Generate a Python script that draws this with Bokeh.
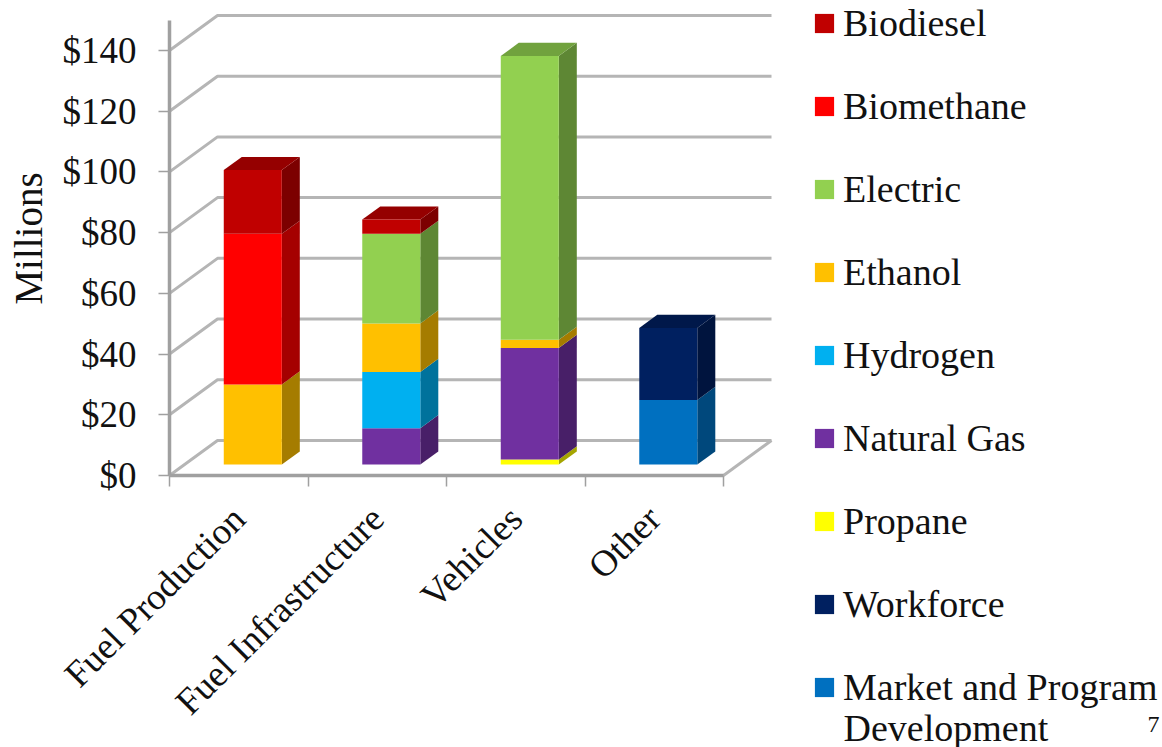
from math import pi

from bokeh.embed import file_html
from bokeh.models import FixedTicker, Label, Legend, LegendItem, NumeralTickFormatter
from bokeh.plotting import figure
from bokeh.resources import INLINE

categories = ["Fuel Production", "Fuel Infrastructure", "Vehicles", "Other"]
series_names = ["Biodiesel", "Biomethane", "Electric", "Ethanol", "Hydrogen",
                "Natural Gas", "Propane", "Workforce", "Market and Program"]
series_colors = ["#C00000", "#FF0000", "#92D050", "#FFC000", "#00B0F0",
                 "#7030A0", "#FFFF00", "#002060", "#0070C0"]

# $ millions per category, listed in the order each column stacks upward
fuel_production = [("Ethanol", 26.4), ("Biomethane", 49.6), ("Biodiesel", 21.0)]
fuel_infrastructure = [("Natural Gas", 12.0), ("Hydrogen", 18.5), ("Ethanol", 16.0),
                       ("Electric", 29.5), ("Biodiesel", 4.7)]
vehicles = [("Propane", 1.7), ("Natural Gas", 36.7), ("Ethanol", 2.7), ("Electric", 93.5)]
other = [("Market and Program", 21.3), ("Workforce", 23.7)]
stacks = [fuel_production, fuel_infrastructure, vehicles, other]

y_ticks = [0, 20, 40, 60, 80, 100, 120, 140]

FONT = "Liberation Serif"
GRID = "#b5b5b5"
AXIS = "#a0a0a0"
INK = "#111111"

# The frame fills the page; one category spans 138.5 px and one $ million 3.036 px
PX_PER_CATEGORY = 138.5
PX_PER_MILLION = 3.036
ORIGIN_X = 169
ORIGIN_Y = 475
PAGE_W = 1162
PAGE_H = 747

# Oblique projection: how far the back wall sits from the front plane, in data units
WALL_DX = 48 / PX_PER_CATEGORY
WALL_DY = 35 / PX_PER_MILLION
BAR_WIDTH = 0.419
BAR_CENTER = 0.493
BAR_FRONT = 0.3125
BAR_BACK = 0.6875


def shade(color, k):
    r, g, b = (int(color[i:i + 2], 16) for i in (1, 3, 5))
    return f"#{int(r * k):02x}{int(g * k):02x}{int(b * k):02x}"


def project(x, v, depth):
    return x + depth * WALL_DX, v + depth * WALL_DY


p = figure(width=PAGE_W, height=PAGE_H, output_backend="svg", toolbar_location=None,
           x_range=(-ORIGIN_X / PX_PER_CATEGORY, (PAGE_W - ORIGIN_X) / PX_PER_CATEGORY),
           y_range=((ORIGIN_Y - PAGE_H) / PX_PER_MILLION, ORIGIN_Y / PX_PER_MILLION),
           min_border=0, outline_line_color=None,
           background_fill_color="white", border_fill_color="white")
p.grid.visible = False

# Wall and floor lines
gx, gy = [], []
for level in y_ticks:
    xb, yb = project(0, level, 1)
    gx.append([0, xb, 4 + WALL_DX])
    gy.append([level, yb, yb])
p.multi_line(gx, gy, line_color=GRID, line_width=3)
xr, yr = project(4, 0, 1)
p.line([4, xr], [0, yr], line_color=GRID, line_width=3)

# Columns: side and top faces first, front face on top of them
swatches = {}
for i, stack in enumerate(stacks):
    x0 = i + BAR_CENTER - BAR_WIDTH / 2
    x1 = x0 + BAR_WIDTH
    base = 0.0
    for k, (name, amount) in enumerate(stack):
        top = base + amount
        color = series_colors[series_names.index(name)]
        fx0b, fyb = project(x0, base, BAR_FRONT)
        fx1b, _ = project(x1, base, BAR_FRONT)
        fx0t, fyt = project(x0, top, BAR_FRONT)
        fx1t, _ = project(x1, top, BAR_FRONT)
        bx1b, byb = project(x1, base, BAR_BACK)
        bx1t, byt = project(x1, top, BAR_BACK)
        bx0t, _ = project(x0, top, BAR_BACK)
        p.patch([fx1b, bx1b, bx1t, fx1t], [fyb, byb, byt, fyt],
                fill_color=shade(color, 0.65), line_color=None)
        if k == len(stack) - 1:
            p.patch([fx0t, fx1t, bx1t, bx0t], [fyt, fyt, byt, byt],
                    fill_color=shade(color, 0.78), line_color=None)
        swatches[name] = p.patch([fx0b, fx1b, fx1t, fx0t], [fyb, fyb, fyt, fyt],
                                 fill_color=color, line_color=None)
        base = top

# Axes are pinned at the origin inside the full-page frame
yaxis = p.yaxis[0]
yaxis.fixed_location = 0
yaxis.ticker = FixedTicker(ticks=y_ticks)
yaxis.formatter = NumeralTickFormatter(format="$0")
yaxis.bounds = (0, 150)
yaxis.major_tick_in = 0
yaxis.major_tick_out = 11
yaxis.minor_tick_line_color = None
yaxis.major_label_standoff = 22
yaxis.major_label_text_font = FONT
yaxis.major_label_text_font_size = "37px"
yaxis.major_label_text_color = INK

xaxis = p.xaxis[0]
xaxis.fixed_location = 0
xaxis.ticker = FixedTicker(ticks=[0.5, 1.5, 2.5, 3.5], minor_ticks=[0, 1, 2, 3, 4])
xaxis.major_label_overrides = {0.5: categories[0], 1.5: categories[1],
                               2.5: categories[2], 3.5: categories[3]}
xaxis.bounds = (0, 4)
xaxis.major_tick_line_color = None
xaxis.minor_tick_in = 0
xaxis.minor_tick_out = 11
xaxis.minor_tick_line_color = AXIS
xaxis.minor_tick_line_width = 1.5
xaxis.major_label_orientation = pi / 4
xaxis.major_label_standoff = 26
xaxis.major_label_text_font = FONT
xaxis.major_label_text_font_size = "37px"
xaxis.major_label_text_color = INK

for axis in (xaxis, yaxis):
    axis.axis_line_color = AXIS
    axis.axis_line_width = 3.5
yaxis.major_tick_line_color = AXIS
yaxis.major_tick_line_width = 1.5

# Legend to the right of the columns, one row per series
legend = Legend(
    items=[LegendItem(label=n, renderers=[swatches[n]]) for n in series_names],
    location=(812, 38),
    orientation="vertical",
    border_line_color=None,
    background_fill_alpha=0,
    padding=0,
    margin=0,
    spacing=39,
    glyph_width=24,
    glyph_height=24,
    label_height=36,
    label_standoff=7,
    label_text_font=FONT,
    label_text_font_size="38px",
    label_text_color=INK,
)
p.add_layout(legend)

# Screen positions are measured from the page's lower-left corner
p.add_layout(Label(x=28, y=PAGE_H - 238, x_units="screen", y_units="screen", text="Millions",
                   angle=pi / 2, text_align="center", text_baseline="middle",
                   text_font=FONT, text_font_size="39px", text_color=INK))
p.add_layout(Label(x=843, y=PAGE_H - 727, x_units="screen", y_units="screen", text="Development",
                   text_baseline="middle",
                   text_font=FONT, text_font_size="38px", text_color=INK))
p.add_layout(Label(x=1147, y=16, x_units="screen", y_units="screen", text="7",
                   text_font=FONT, text_font_size="24px", text_color=INK))

open("out.html", "w").write(file_html(p, INLINE))
